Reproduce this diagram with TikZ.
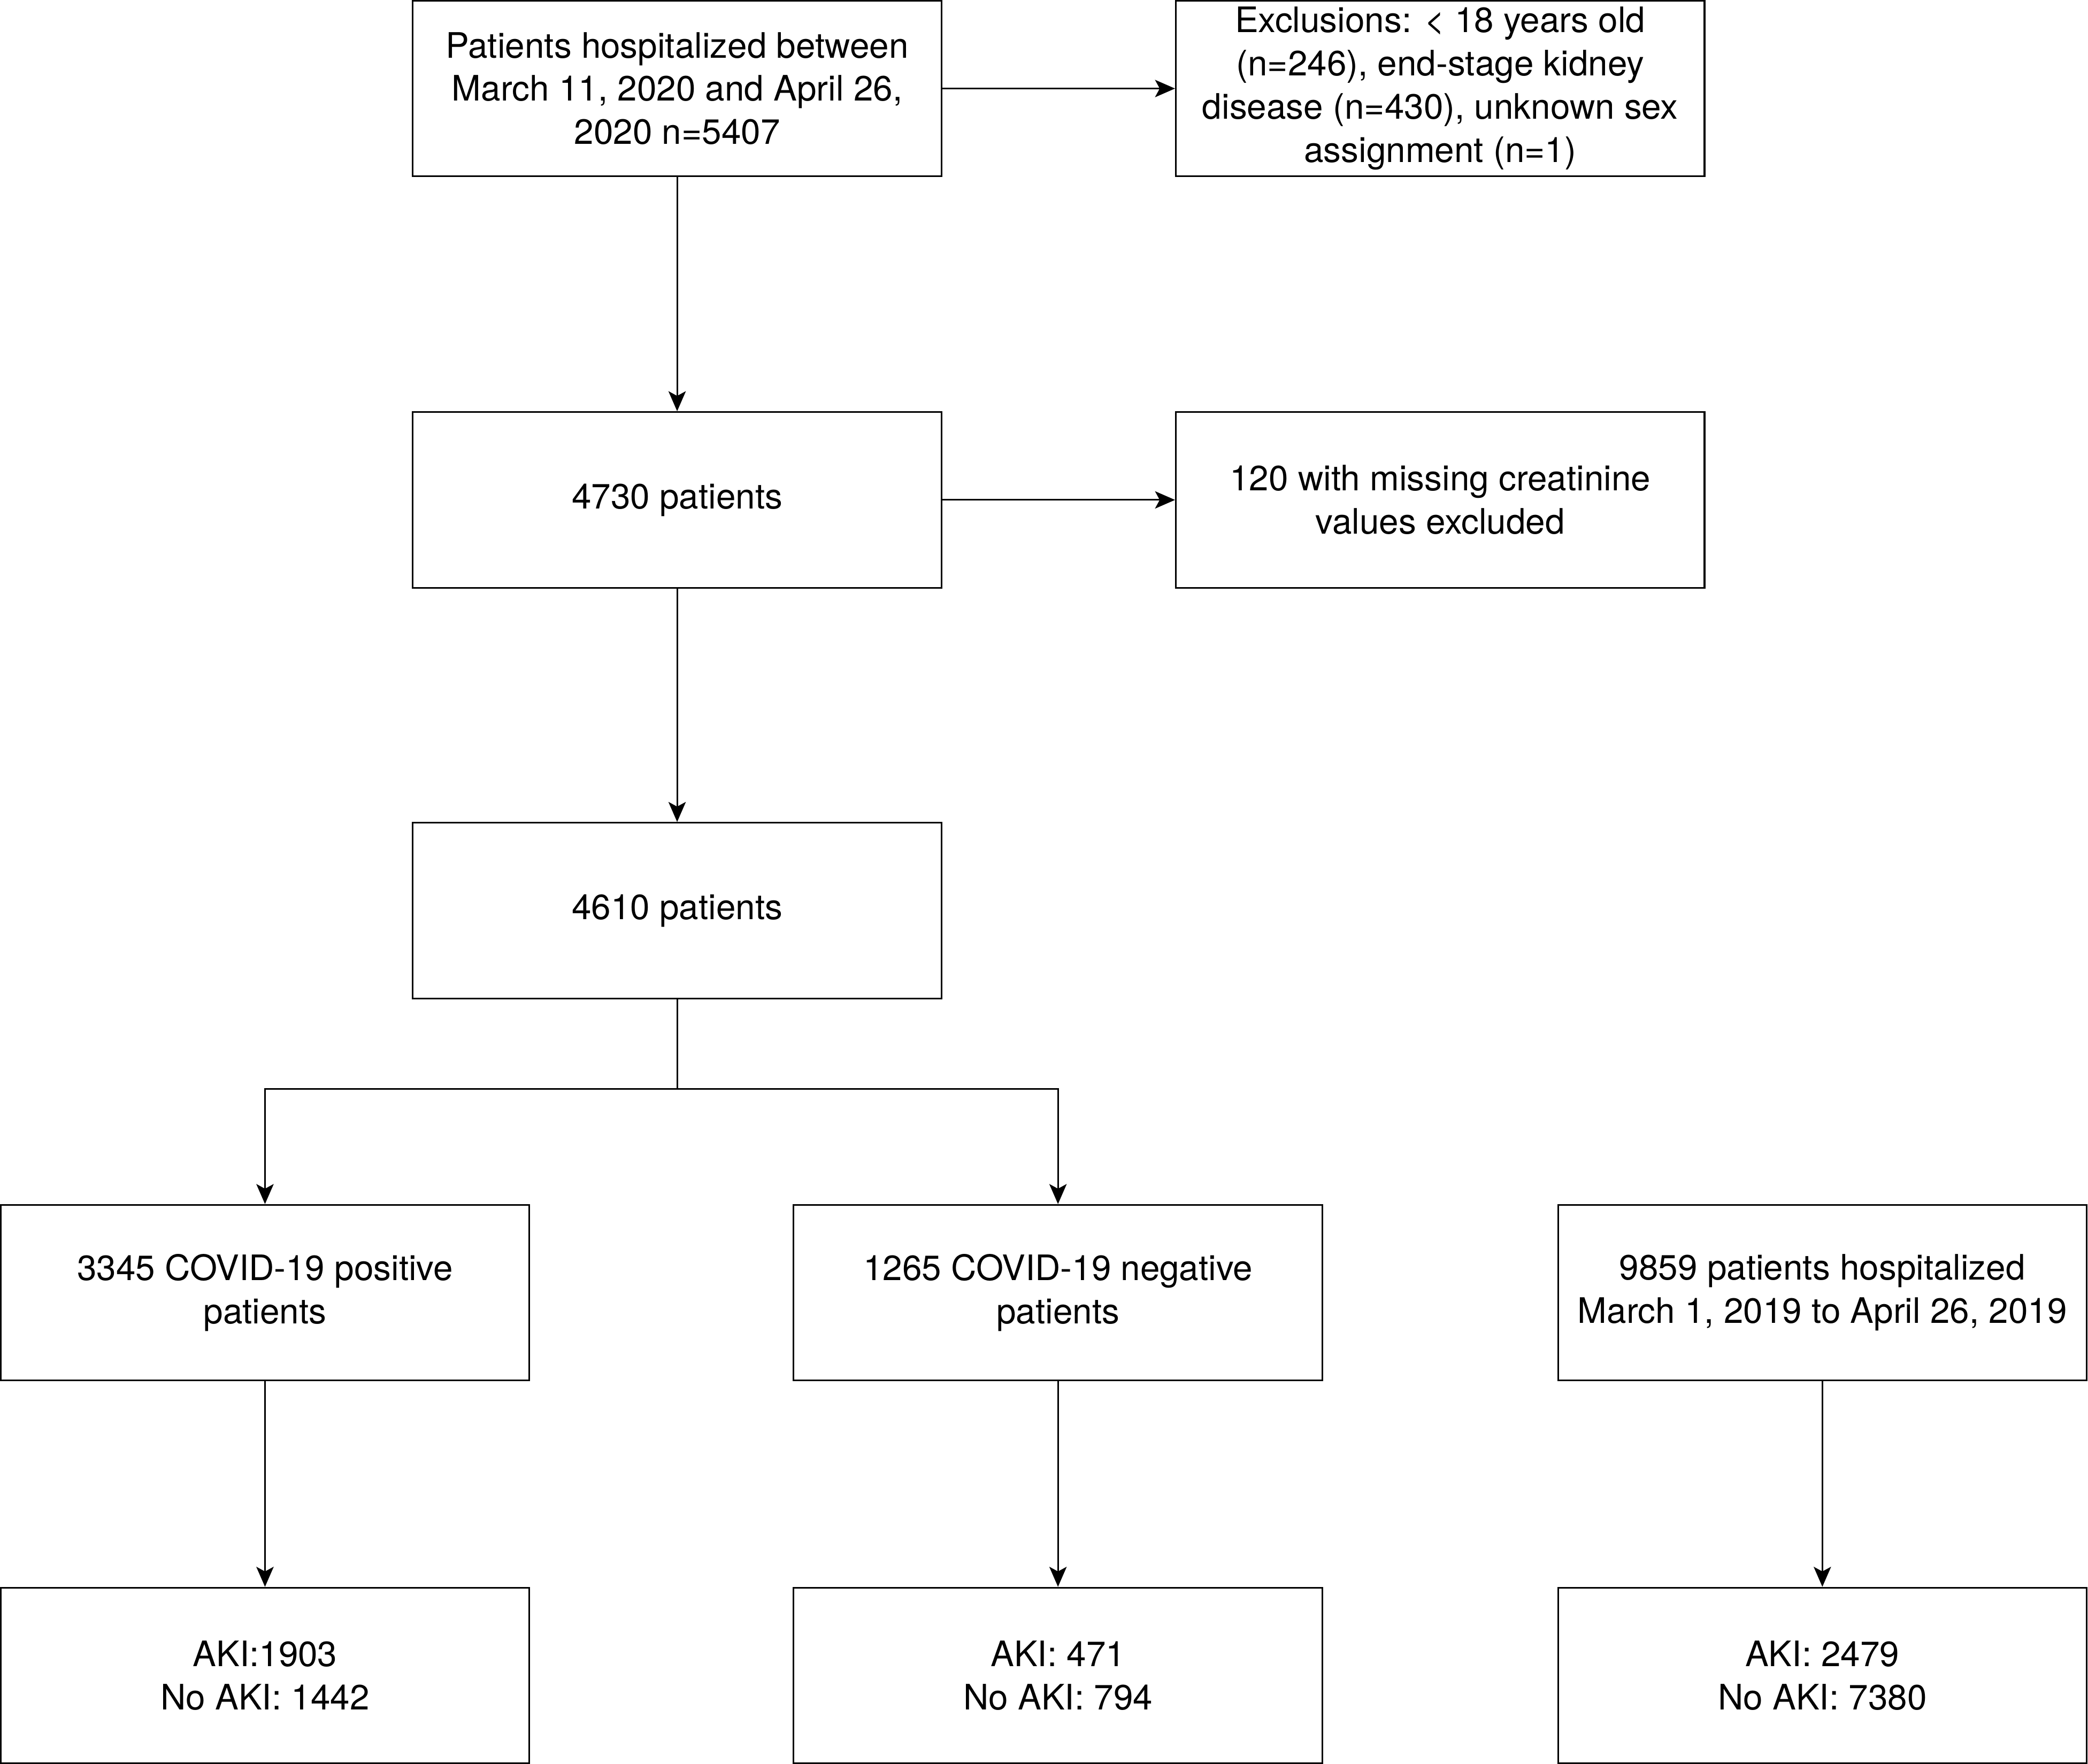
\documentclass[tikz,border=0pt]{standalone}
\usepackage{fontspec}
\setmainfont{TeX Gyre Heros}
\usepackage{tikz}
\usetikzlibrary{arrows.meta}

\begin{document}
\begin{tikzpicture}[
    flowbox/.style={draw, line width=0.7pt, minimum width=7.94cm, minimum height=2.64cm,
        inner sep=0pt, align=center, font=\fontsize{15}{18.5}\selectfont},
    flowarrow/.style={line width=0.7pt, -{Stealth[length=0.3cm, width=0.26cm, inset=0.07cm]}}
]

    \useasboundingbox (0,0) rectangle (31.36,-26.5);

    % Top part
    \node[flowbox] (pat) at (10.17,-1.33)
        {Patients hospitalized between\\March 11, 2020 and April 26,\\2020 n=5407};

    \node[flowbox] (excl) at (21.63,-1.33)
        {Exclusions: < 18 years old\\(n=246), end-stage kidney\\disease (n=430), unknown sex\\assignment (n=1)};

    \node[flowbox] (n4730) at (10.17,-7.51) {4730 patients};

    \node[flowbox] (miss) at (21.63,-7.51)
        {120 with missing creatinine\\values excluded};

    \node[flowbox] (n4610) at (10.17,-13.68) {4610 patients};

    % Cohorts
    \node[flowbox] (pos) at (3.98,-19.42) {3345 COVID-19 positive\\patients};
    \node[flowbox] (neg) at (15.89,-19.42) {1265 COVID-19 negative\\patients};
    \node[flowbox] (hist) at (27.37,-19.42)
        {9859 patients hospitalized\\March 1, 2019 to April 26, 2019};

    % AKI counts
    \node[flowbox] (akipos) at (3.98,-25.17) {AKI:1903\\No AKI: 1442};
    \node[flowbox] (akineg) at (15.89,-25.17) {AKI: 471\\No AKI: 794};
    \node[flowbox] (akihist) at (27.37,-25.17) {AKI: 2479\\No AKI: 7380};

    % Arrows
    \draw[flowarrow] (pat) -- (excl);
    \draw[flowarrow] (pat) -- (n4730);
    \draw[flowarrow] (n4730) -- (miss);
    \draw[flowarrow] (n4730) -- (n4610);

    \coordinate (split) at (10.17,-16.36);
    \draw[line width=0.7pt] (n4610.south) -- (split);
    \draw[flowarrow] (split) -| (pos.north);
    \draw[flowarrow] (split) -| (neg.north);

    \draw[flowarrow] (pos) -- (akipos);
    \draw[flowarrow] (neg) -- (akineg);
    \draw[flowarrow] (hist) -- (akihist);

\end{tikzpicture}
\end{document}
